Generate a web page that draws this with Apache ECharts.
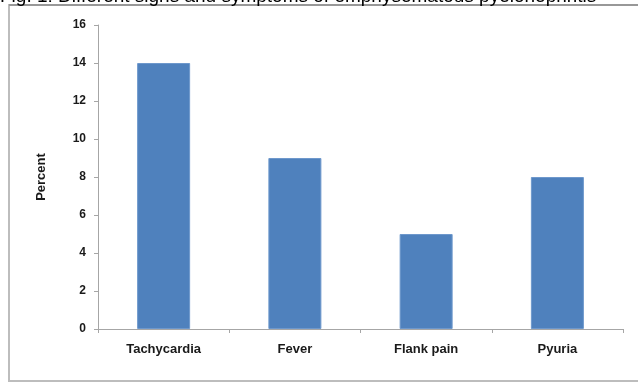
<!DOCTYPE html>
<html>
<head>
<meta charset="utf-8">
<script src="https://cdn.jsdelivr.net/npm/echarts@6/dist/echarts.min.js"></script>
<style>
  html, body { margin: 0; padding: 0; background: #fff; }
  #chart { width: 638px; height: 383px; }
</style>
</head>
<body>
<div id="chart"></div>
<script>
const titleText = 'Fig. 1: Different signs and symptoms of emphysematous pyelonephritis';
const categories = ['Tachycardia', 'Fever', 'Flank pain', 'Pyuria'];
const percentValues = [14, 9, 5, 8];
const yTicks = [0, 2, 4, 6, 8, 10, 12, 14, 16];

const chart = echarts.init(document.getElementById('chart'));

chart.setOption({
  animation: false,
  textStyle: { fontFamily: 'Arial, "Liberation Sans", sans-serif' },
  graphic: [
    {
      type: 'rect',
      shape: { x: 9, y: 5, width: 640, height: 376 },
      style: { fill: 'none', stroke: '#BDBDBD', lineWidth: 2 },
      silent: true,
    },
    {
      type: 'line',
      shape: { x1: 9, y1: 5, x2: 638, y2: 5 },
      style: { stroke: '#8C8C8C', lineWidth: 1.5 },
      silent: true,
    },
    {
      type: 'text',
      left: 0,
      top: -13,
      style: {
        text: titleText,
        fill: '#000',
        font: '19px Arial, "Liberation Sans", sans-serif',
      },
      silent: true,
    },
  ],
  grid: {
    left: 98,
    right: 15,
    top: 25,
    bottom: 54,
  },
  xAxis: {
    type: 'category',
    data: categories,
    axisLine: { lineStyle: { color: '#A6A6A6', width: 1 } },
    axisTick: { show: true, length: 4, lineStyle: { color: '#A6A6A6' } },
    axisLabel: {
      color: '#1a1a1a',
      fontSize: 13,
      fontWeight: 'bold',
      margin: 14,
    },
  },
  yAxis: {
    type: 'value',
    min: yTicks[0],
    max: yTicks[yTicks.length - 1],
    interval: 2,
    name: 'Percent',
    nameLocation: 'middle',
    nameGap: 50,
    nameTextStyle: { color: '#1a1a1a', fontSize: 13, fontWeight: 'bold' },
    axisLine: { show: true, lineStyle: { color: '#A6A6A6', width: 1 } },
    axisTick: { show: true, length: 4, lineStyle: { color: '#A6A6A6' } },
    splitLine: { show: false },
    axisLabel: {
      color: '#1a1a1a',
      fontSize: 12,
      fontWeight: 'bold',
      margin: 12,
    },
  },
  series: [
    {
      type: 'bar',
      data: percentValues,
      barWidth: 53,
      itemStyle: {
        color: '#4F81BD',
        borderColor: '#6E98CC',
        borderWidth: 1,
      },
    },
  ],
});
</script>
</body>
</html>
